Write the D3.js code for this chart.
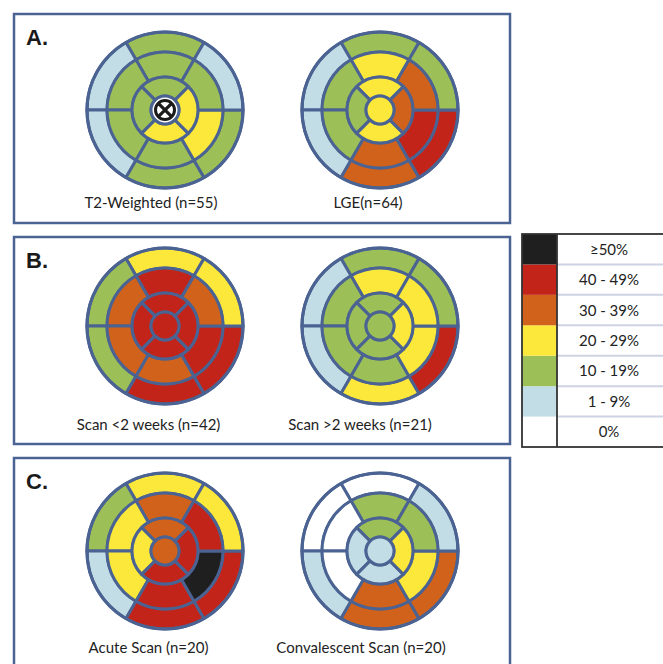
<!DOCTYPE html>
<html>
<head>
<meta charset="utf-8">
<script src="https://cdn.jsdelivr.net/npm/d3@7"></script>
<style>
  body { margin: 0; background: #fff; }
  svg { display: block; }
</style>
</head>
<body>
<svg id="chart" width="663" height="664"></svg>
<script>
// bins for the legend, top to bottom in the legend = highest first
const binLabels = ["0%", "1 - 9%", "10 - 19%", "20 - 29%", "30 - 39%", "40 - 49%", "\u226550%"];
const binColors = ["#ffffff", "#c3dde6", "#9dbf57", "#fbe83a", "#d1621b", "#c3241a", "#1f1f1f"];

// AHA 17 segments: basal 1-6, mid 7-12 (anterior, anteroseptal, inferoseptal,
// inferior, inferolateral, anterolateral), apical 13-16 (anterior, septal,
// inferior, lateral), apex 17. Values are bin indices; null = not assessed.
const t2Weighted   = [2,1,1,2,2,1, 2,2,2,2,3,2, 2,2,3,3, null];
const lge          = [2,1,1,4,5,2, 3,2,2,4,5,4, 3,2,3,4, 3];
const scanEarly    = [3,2,2,5,5,3, 5,4,4,4,5,4, 5,5,5,5, 5];
const scanLate     = [2,1,1,3,5,2, 3,2,2,2,3,3, 2,2,2,3, 2];
const acuteScan    = [3,2,1,5,5,3, 4,3,3,5,6,5, 4,3,5,5, 4];
const convalescent = [0,0,1,4,4,1, 2,0,0,4,3,2, 2,1,1,3, 1];

const panelLetters = ["A.", "B.", "C."];
const plotTitles = [
  ["T2-Weighted (n=55)", "LGE(n=64)"],
  ["Scan <2 weeks (n=42)", "Scan >2 weeks (n=21)"],
  ["Acute Scan (n=20)", "Convalescent Scan (n=20)"]
];
const plotData = [[t2Weighted, lge], [scanEarly, scanLate], [acuteScan, convalescent]];

const svg = d3.select("#chart");
const edge = "#4b6392";

// panel layout
const panels = [
  {y0: 14, y1: 223, cy: 110, ty: 208},
  {y0: 237, y1: 444, cy: 326, ty: 430},
  {y0: 458, y1: 680, cy: 551, ty: 653}
];
const cxs = [165, 380], txs = [[151, 368], [148.5, 360], [148.5, 361]];
const radii = {apex: 14, apical: 33, mid: 58, basal: 78};
const deg = Math.PI / 180;

function bullseye(g, vals) {
  const arc = d3.arc();
  const segs = [];
  for (let i = 0; i < 6; i++) {
    const a0 = (-30 - 60 * i) * deg, a1 = (30 - 60 * i) * deg;
    segs.push({v: vals[i], inner: radii.mid, outer: radii.basal, a0, a1});
    segs.push({v: vals[6 + i], inner: radii.apical, outer: radii.mid, a0, a1});
  }
  for (let j = 0; j < 4; j++) {
    segs.push({v: vals[12 + j], inner: radii.apex, outer: radii.apical,
      a0: (-45 - 90 * j) * deg, a1: (45 - 90 * j) * deg});
  }
  g.selectAll("path.seg").data(segs).join("path")
    .attr("class", "seg")
    .attr("d", d => arc({innerRadius: d.inner, outerRadius: d.outer, startAngle: d.a0, endAngle: d.a1}))
    .attr("fill", d => binColors[d.v])
    .attr("stroke", edge)
    .attr("stroke-width", 3)
    .attr("stroke-linejoin", "round");

  const apex = vals[16];
  g.append("circle").attr("r", radii.apex)
    .attr("fill", apex == null ? "#fff" : binColors[apex])
    .attr("stroke", edge).attr("stroke-width", 3);

  if (apex == null) {
    // excluded apex marker
    g.append("circle").attr("r", 9.5).attr("fill", "#fff")
      .attr("stroke", "#1a1a1a").attr("stroke-width", 3);
    const k = 6.2;
    g.append("path")
      .attr("d", `M${-k},${-k}L${k},${k}M${-k},${k}L${k},${-k}`)
      .attr("stroke", "#1a1a1a").attr("stroke-width", 3.2);
  }
  g.append("circle").attr("r", radii.basal)
    .attr("fill", "none").attr("stroke", edge).attr("stroke-width", 3.2);
}

panels.forEach((p, pi) => {
  svg.append("rect")
    .attr("x", 14).attr("y", p.y0)
    .attr("width", 496).attr("height", p.y1 - p.y0)
    .attr("fill", "#fff").attr("stroke", edge).attr("stroke-width", 2.5);

  svg.append("text")
    .attr("x", 26).attr("y", p.y0 + 31)
    .attr("font-family", "Liberation Sans, Arial, sans-serif")
    .attr("font-weight", "bold").attr("font-size", 22)
    .attr("fill", "#1a1a1a")
    .text(panelLetters[pi]);

  plotData[pi].forEach((vals, k) => {
    const g = svg.append("g").attr("transform", `translate(${cxs[k]},${p.cy})`);
    bullseye(g, vals);
    svg.append("text")
      .attr("x", txs[pi][k]).attr("y", p.ty)
      .attr("text-anchor", "middle")
      .attr("font-family", "Lato, 'Open Sans', sans-serif")
      .attr("font-size", 15).attr("fill", "#222")
      .text(plotTitles[pi][k]);
  });
});

// legend
const lg = {x: 522, y: 234, sw: 35, w: 160, h: 213};
const rowY = d3.scaleBand().domain(d3.range(binLabels.length).reverse())
  .range([lg.y, lg.y + lg.h]);
const legend = svg.append("g");
legend.selectAll("rect.sw").data(d3.range(binLabels.length)).join("rect")
  .attr("class", "sw")
  .attr("x", lg.x).attr("y", d => rowY(d))
  .attr("width", lg.sw).attr("height", rowY.bandwidth())
  .attr("fill", d => binColors[d]);
legend.selectAll("line.sep").data(d3.range(1, binLabels.length)).join("line")
  .attr("class", "sep")
  .attr("x1", lg.x + lg.sw + 1).attr("x2", lg.x + lg.w)
  .attr("y1", d => rowY(d) + rowY.bandwidth()).attr("y2", d => rowY(d) + rowY.bandwidth())
  .attr("stroke", "#cdd3e3").attr("stroke-width", 2);
legend.selectAll("text").data(d3.range(binLabels.length)).join("text")
  .attr("x", 609).attr("y", d => rowY(d) + rowY.bandwidth() / 2 + 5.5)
  .attr("text-anchor", "middle")
  .attr("font-family", "Lato, 'Open Sans', sans-serif")
  .attr("font-size", 15).attr("fill", "#222")
  .text(d => binLabels[d]);
legend.append("rect")
  .attr("x", lg.x).attr("y", lg.y).attr("width", lg.w).attr("height", lg.h)
  .attr("fill", "none").attr("stroke", "#333").attr("stroke-width", 1.8);
legend.append("line")
  .attr("x1", lg.x + lg.sw).attr("x2", lg.x + lg.sw)
  .attr("y1", lg.y).attr("y2", lg.y + lg.h)
  .attr("stroke", "#333").attr("stroke-width", 1.8);
</script>
</body>
</html>
